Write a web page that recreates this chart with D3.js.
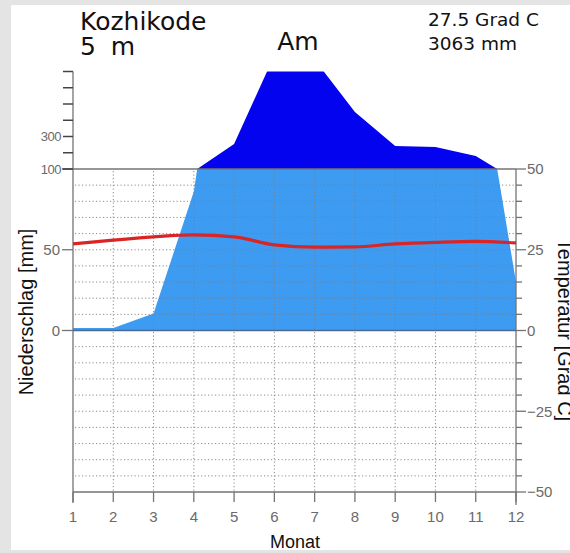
<!DOCTYPE html>
<html><head><meta charset="utf-8">
<script src="https://cdn.jsdelivr.net/npm/d3@7"></script>
<style>
html,body{margin:0;padding:0;background:#e4e4e4;}
svg{display:block;font-family:"Liberation Sans",Arial,sans-serif;}
</style></head>
<body>
<svg id="chart" width="570" height="553"></svg>
<script>
// ---- data ----
const months = [1,2,3,4,5,6,7,8,9,10,11,12];
const monthLabels = ["1","2","3","4","5","6","7","8","9","10","11","12"];
const precipitation = [1.5, 1.5, 10.5, 86, 254, 799, 773, 451, 241, 235, 180, 30]; // mm
const temperature = [26.8, 28.0, 29.0, 29.6, 29.0, 26.5, 25.8, 25.9, 26.8, 27.3, 27.6, 27.1]; // °C
const precipTicksLow = [0, 50, 100];
const precipTicksHigh = [100, 200, 300, 400, 500, 600, 700];
const precipLabelsHigh = [100, 300];
const tempTicks = [-50, -25, 0, 25, 50];
const tempMinor = [-45,-40,-35,-30,-20,-15,-10,-5,5,10,15,20,30,35,40,45];
const stationName = "Kozhikode";
const elevation = "5 m";
const climateClass = "Am";
const meanTemp = "27.5 Grad C";
const totalPrecip = "3063 mm";

const svg = d3.select("#chart");
// white panel
svg.append("rect").attr("x",11).attr("y",5).attr("width",570-11).attr("height",545).attr("fill","#fff");

const x = d3.scaleLinear().domain([1,12]).range([73,516]);
const yT = d3.scaleLinear().domain([-50,50]).range([492,169]);
const yP = d3.scaleLinear().domain([0,100]).range([yT(0),yT(50)]);
const yU = d3.scaleLinear().domain([100,700]).range([yT(50),71.5]);

const defs = svg.append("defs");
defs.append("clipPath").attr("id","clipLow").append("rect")
  .attr("x",x(1)).attr("y",yP(100)).attr("width",x(12)-x(1)).attr("height",yP(0)-yP(100));
defs.append("clipPath").attr("id","clipHigh").append("rect")
  .attr("x",x(1)).attr("y",yU(700)).attr("width",x(12)-x(1)).attr("height",yU(100)-yU(700));

const data = months.map((m,i)=>({m, p:precipitation[i], t:temperature[i]}));

// humid area lower (light blue)
svg.append("path").datum(data)
  .attr("clip-path","url(#clipLow)")
  .attr("fill","#3d9bf2")
  .attr("d", d3.area().x(d=>x(d.m)).y0(yP(0)).y1(d=>yP(d.p)));

// upper area (dark blue, reduced scale)
svg.append("path").datum(data)
  .attr("clip-path","url(#clipHigh)")
  .attr("fill","#0303f0")
  .attr("d", d3.area().x(d=>x(d.m)).y0(yU(100)).y1(d=>yU(d.p)));

// grid
const grid = svg.append("g").attr("stroke","#808080").attr("stroke-width",1)
  .attr("stroke-dasharray","1.2,2.3").attr("opacity",0.9);
tempMinor.concat([25,-25]).forEach(t=>{
  grid.append("line").attr("x1",x(1)+2).attr("x2",x(12)).attr("y1",yT(t)).attr("y2",yT(t));
});
months.slice(1,11).forEach(m=>{
  grid.append("line").attr("x1",x(m)).attr("x2",x(m)).attr("y1",yT(50)+2).attr("y2",yT(-50));
});

const axisColor = "#737373";
const labColor = "#6a6a6a";
// frame
const frame = svg.append("g").attr("stroke",axisColor).attr("stroke-width",1.3).attr("fill","none");
frame.append("line").attr("x1",x(1)).attr("x2",x(1)).attr("y1",yU(700)).attr("y2",yT(-50)+11);
frame.append("line").attr("x1",x(12)).attr("x2",x(12)).attr("y1",yT(50)).attr("y2",yT(-50)+13);
frame.append("line").attr("x1",x(1)).attr("x2",x(12)).attr("y1",yT(-50)).attr("y2",yT(-50));
frame.append("line").attr("x1",62).attr("x2",x(12)).attr("y1",yT(50)).attr("y2",yT(50));
svg.append("line").attr("x1",x(1)).attr("x2",x(12)).attr("y1",yT(0)).attr("y2",yT(0))
  .attr("stroke","#4a6a96").attr("stroke-width",1.5);

// left axis ticks lower
const left = svg.append("g");
precipTicksLow.forEach(v=>{
  left.append("line").attr("x1",62).attr("x2",x(1)).attr("y1",yP(v)).attr("y2",yP(v))
    .attr("stroke",axisColor).attr("stroke-width",1.3);
});
[0,50].forEach(v=>{
  left.append("text").attr("x",60).attr("y",yP(v)).attr("dy","0.36em").attr("text-anchor","end")
    .attr("font-size",15).attr("fill",labColor).text(v);
});
precipTicksHigh.forEach(v=>{
  left.append("line").attr("x1",63).attr("x2",x(1)).attr("y1",yU(v)).attr("y2",yU(v))
    .attr("stroke","#444").attr("stroke-width",1.5);
});
precipLabelsHigh.forEach(v=>{
  left.append("text").attr("x",61).attr("y",yU(v)).attr("dy","0.36em").attr("text-anchor","end")
    .attr("font-size",13).attr("letter-spacing",-0.5).attr("fill",labColor).text(v);
});

// right axis
const right = svg.append("g");
tempMinor.forEach(t=>{
  right.append("line").attr("x1",x(12)).attr("x2",x(12)+6).attr("y1",yT(t)).attr("y2",yT(t))
    .attr("stroke",axisColor).attr("stroke-width",1.3);
});
tempTicks.forEach(t=>{
  right.append("line").attr("x1",x(12)).attr("x2",x(12)+10).attr("y1",yT(t)).attr("y2",yT(t))
    .attr("stroke",axisColor).attr("stroke-width",1.3);
  right.append("text").attr("x",x(12)+11).attr("y",yT(t)).attr("dy","0.36em")
    .attr("font-size",15).attr("fill",labColor).text(t<0 ? "\u2212"+Math.abs(t) : t);
});

// bottom axis
const bottom = svg.append("g");
months.forEach((m,i)=>{
  bottom.append("line").attr("x1",x(m)).attr("x2",x(m)).attr("y1",yT(-50)).attr("y2",yT(-50)+10)
    .attr("stroke",axisColor).attr("stroke-width",1.3);
  bottom.append("text").attr("x",x(m)).attr("y",yT(-50)+25).attr("dy","0.36em")
    .attr("text-anchor","middle").attr("font-size",15).attr("fill",labColor).text(monthLabels[i]);
});

// temperature line
svg.append("path").datum(data)
  .attr("fill","none").attr("stroke","#d92525").attr("stroke-width",3.2)
  .attr("d", d3.line().x(d=>x(d.m)).y(d=>yT(d.t)).curve(d3.curveMonotoneX));

// titles
const tf = "DejaVu Sans, sans-serif";
svg.append("text").attr("x",80).attr("y",30).attr("font-family",tf).attr("font-size",25).attr("fill","#111").text(stationName);
svg.append("text").attr("x",80).attr("y",55).attr("font-family",tf).attr("font-size",25).attr("word-spacing",7).attr("fill","#111").text(elevation);
svg.append("text").attr("x",298).attr("y",50).attr("text-anchor","middle").attr("font-family",tf).attr("font-size",25).attr("fill","#111").text(climateClass);
svg.append("text").attr("x",428).attr("y",26).attr("font-family",tf).attr("font-size",18.5).attr("fill","#111").text(meanTemp);
svg.append("text").attr("x",428).attr("y",50).attr("font-family",tf).attr("font-size",18.5).attr("fill","#111").text(totalPrecip);

// axis titles
svg.append("text").attr("transform","translate(33,312) rotate(-90)").attr("text-anchor","middle")
  .attr("font-size",20).attr("fill","#111").text("Niederschlag [mm]");
svg.append("text").attr("transform","translate(558,330) rotate(90)").attr("text-anchor","middle")
  .attr("font-size",20).attr("fill","#111").text("Temperatur [Grad C]");
svg.append("text").attr("x",295).attr("y",548).attr("text-anchor","middle")
  .attr("font-size",18).attr("fill","#111").text("Monat");
</script>
</body></html>
